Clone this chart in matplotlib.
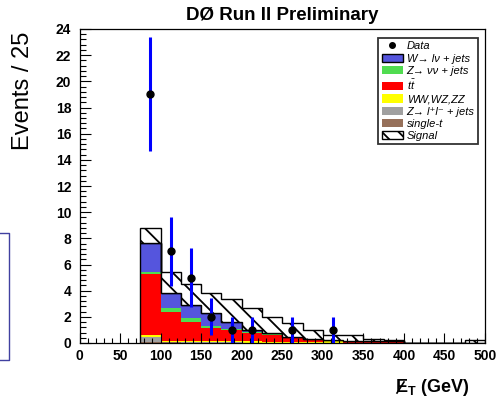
import numpy as np
import matplotlib
matplotlib.use("Agg")
import matplotlib.pyplot as plt
from matplotlib.patches import Patch
from matplotlib.lines import Line2D
from matplotlib.ticker import MultipleLocator

plt.rcParams['font.family'] = ['Liberation Sans', 'DejaVu Sans']
plt.rcParams['mathtext.fontset'] = 'custom'
plt.rcParams['mathtext.rm'] = 'Liberation Sans'
plt.rcParams['mathtext.it'] = 'Liberation Sans:italic'
plt.rcParams['mathtext.bf'] = 'Liberation Sans:bold'
plt.rcParams['hatch.linewidth'] = 1.3

# missing ET bins, 25 GeV wide (75 ... 500)
edges = np.arange(75, 501, 25)

# stacked backgrounds (events / bin), bottom to top
single_t = [0.05, 0.04, 0.03, 0.02, 0.02, 0.01, 0.01, 0, 0, 0, 0, 0, 0, 0, 0, 0, 0]
zll = [0.40, 0.05, 0.04, 0.03, 0.02, 0.02, 0.01, 0.01, 0, 0, 0, 0, 0, 0, 0, 0, 0]
diboson = [0.15, 0.08, 0.08, 0.12, 0.08, 0.10, 0.08, 0.06, 0.08, 0.12, 0.03, 0.02, 0.02, 0, 0, 0, 0]
ttbar = [4.65, 2.23, 1.48, 0.98, 0.87, 0.62, 0.50, 0.28, 0.14, 0.05, 0.10, 0.10, 0.10, 0, 0, 0, 0]
znunu = [0.15, 0.25, 0.26, 0.18, 0.08, 0.10, 0.08, 0.03, 0.02, 0.01, 0.01, 0, 0, 0, 0, 0, 0]
wlnu = [2.22, 1.15, 1.01, 0.97, 0.56, 0.15, 0.12, 0.10, 0.05, 0.03, 0.03, 0.02, 0, 0, 0, 0, 0]
signal = [1.20, 1.65, 1.59, 1.55, 1.77, 1.68, 1.20, 1.02, 0.71, 0.41, 0.45, 0.16, 0.10, 0, 0, 0, 0.20]

# observed events
data_x = [87.5, 112.5, 137.5, 162.5, 187.5, 212.5, 262.5, 312.5]
data_n = [19, 7, 5, 2, 1, 1, 1, 1]

fig = plt.figure(figsize=(4.97, 3.97), dpi=100)
ax = fig.add_axes([79.5 / 497, 1 - 343 / 397, (485 - 79.5) / 497, (343 - 29) / 397])

width = 25
left = edges[:-1]
bottom = np.zeros(len(left))
layers = [
    (single_t, '#96705a'),
    (zll, '#a0a0a0'),
    (diboson, '#ffff00'),
    (ttbar, '#ff0000'),
    (znunu, '#50dc50'),
    (wlnu, '#5555dd'),
]
for vals, col in layers:
    vals = np.array(vals)
    ax.bar(left, vals, width=width, bottom=bottom, align='edge', color=col, linewidth=0)
    bottom = bottom + vals

# outline of the W+jets top
ax.stairs(bottom, edges, baseline=0, color='black', linewidth=1)

# signal on top, hatched
total = bottom + np.array(signal)
ax.stairs(total, edges, baseline=bottom, fill=True, facecolor='white',
          edgecolor='black', hatch='\\\\', linewidth=1)

# data with poisson errors
ax.errorbar(data_x, data_n, yerr=np.sqrt(data_n), fmt='o', color='black',
            markersize=5, ecolor='#0000ff', elinewidth=2.2, capsize=0, zorder=5)

ax.set_xlim(0, 500)
ax.set_ylim(0, 24)
ax.xaxis.set_major_locator(MultipleLocator(50))
ax.xaxis.set_minor_locator(MultipleLocator(10))
ax.yaxis.set_major_locator(MultipleLocator(2))
ax.yaxis.set_minor_locator(MultipleLocator(0.4))
ax.tick_params(axis='x', which='major', direction='in', length=7, width=0.8, pad=4, labelsize=10)
ax.tick_params(axis='x', which='minor', direction='in', length=3.6, width=0.8)
ax.tick_params(axis='y', which='major', direction='in', length=8, width=0.8, pad=6, labelsize=10)
ax.tick_params(axis='y', which='minor', direction='in', length=4, width=0.8)
for lab in ax.get_xticklabels() + ax.get_yticklabels():
    lab.set_fontweight('bold')
for sp in ax.spines.values():
    sp.set_linewidth(0.9)

fig.text(282 / 497, 1 - 16 / 397, 'DØ Run II Preliminary', ha='center', va='center',
         fontsize=13.5, fontweight='bold')
fig.text(23 / 497, 1 - 91 / 397, 'Events / 25', rotation=90, ha='center', va='center', fontsize=17)

# missing ET label, E crossed by a short slash
yb = 1 - 392 / 397
fig.text(395 / 497, yb, r'$\mathbf{E}_{\mathbf{T}}$ (GeV)', ha='left', va='baseline',
         fontsize=13, fontweight='bold')
fig.add_artist(Line2D([397 / 497, 404 / 497], [1 - 393 / 397, 1 - 382 / 397],
                      transform=fig.transFigure, color='black', linewidth=1.2))

handles = [
    Line2D([], [], marker='o', color='black', linestyle='none', markersize=4),
    Patch(facecolor='#5555dd', edgecolor='black', linewidth=1),
    Patch(facecolor='#50dc50', linewidth=0),
    Patch(facecolor='#ff0000', linewidth=0),
    Patch(facecolor='#ffff00', linewidth=0),
    Patch(facecolor='#a0a0a0', linewidth=0),
    Patch(facecolor='#96705a', linewidth=0),
    Patch(facecolor='white', edgecolor='black', hatch='\\\\', linewidth=1),
]
labels = ['Data', 'W→ lν + jets', 'Z→ νν + jets', r'$t\bar{t}$', 'WW,WZ,ZZ',
          'Z→ l⁺l⁻ + jets', 'single-t', 'Signal']
leg = fig.legend(handles, labels, loc='upper right', bbox_to_anchor=(478 / 497, 1 - 38 / 397),
                 prop={'size': 8, 'style': 'italic'}, frameon=True, fancybox=False,
                 edgecolor='black', handlelength=1.9, handleheight=0.75, handletextpad=0.35,
                 labelspacing=0.2, borderpad=0.3, borderaxespad=0)
leg.get_frame().set_linewidth(1.3)

# slide frame edge at the left
fig.add_artist(Line2D([0, 9 / 497, 9 / 497, 0], [1 - 233 / 397, 1 - 233 / 397, 1 - 360 / 397, 1 - 360 / 397],
                      transform=fig.transFigure, color='#4040a0', linewidth=1))

fig.savefig('out.png', dpi=100)
